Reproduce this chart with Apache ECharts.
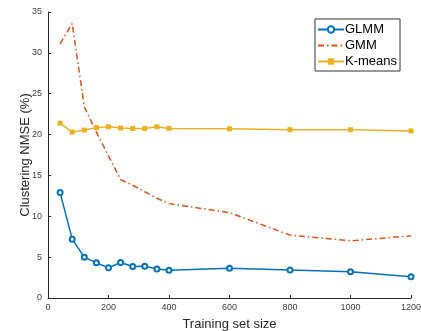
<!DOCTYPE html>
<html><head><meta charset="utf-8">
<script src="https://cdn.jsdelivr.net/npm/echarts@6/dist/echarts.min.js"></script>
<style>html,body{margin:0;padding:0;background:#fff}#c{width:421px;height:331px}</style>
</head><body><div id="c"></div>
<script>
const sizes = [40, 80, 120, 160, 200, 240, 280, 320, 360, 400, 600, 800, 1000, 1200];
const glmm = [12.9, 7.2, 5.0, 4.3, 3.7, 4.35, 3.85, 3.9, 3.55, 3.4, 3.63, 3.42, 3.2, 2.6];
const gmm = [31.1, 33.6, 23.4, 20.3, 17.4, 14.5, 13.8, 13.0, 12.2, 11.55, 10.45, 7.7, 7.0, 7.6];
const kmeans = [21.4, 20.3, 20.55, 20.85, 20.95, 20.8, 20.75, 20.75, 20.95, 20.75, 20.7, 20.6, 20.6, 20.45];
const xTicks = [0, 200, 400, 600, 800, 1000, 1200];
const yTicks = [0, 5, 10, 15, 20, 25, 30, 35];

const pair = (ys) => sizes.map((x, i) => [x, ys[i]]);
const chart = echarts.init(document.getElementById('c'), null, {renderer: 'canvas'});
const font = 'Helvetica, Arial, "Liberation Sans", sans-serif';
chart.setOption({
  animation: false,
  textStyle: {fontFamily: font},
  grid: {left: 48, right: 10, top: 12, bottom: 33, containLabel: false, outerBoundsMode: 'none'},
  legend: {
    left: 315, top: 19, orient: 'vertical',
    itemWidth: 26, itemHeight: 8, itemGap: 3,
    padding: [4, 3, 3, 2],
    borderColor: '#333', borderWidth: 1, borderRadius: 0,
    backgroundColor: '#fff',
    textStyle: {fontSize: 13, color: '#000', fontFamily: font, padding: [0, 0, 0, -4]},
    data: ['GLMM', {name: 'GMM', itemStyle: {opacity: 0}}, 'K-means']
  },
  xAxis: {
    type: 'value', min: 0, max: 1200, interval: 200,
    name: 'Training set size', nameLocation: 'middle', nameGap: 20, nameMoveOverlap: false,
    nameTextStyle: {fontSize: 13, color: '#262626'},
    axisLine: {lineStyle: {color: '#262626', width: 1}},
    axisTick: {inside: true, length: 3, lineStyle: {color: '#262626'}},
    axisLabel: {fontSize: 9, color: '#404040', margin: 5,
      formatter: v => xTicks.includes(v) ? String(v) : ''},
    splitLine: {show: false}
  },
  yAxis: {
    type: 'value', min: 0, max: 35, interval: 5,
    name: 'Clustering NMSE (%)', nameLocation: 'middle', nameGap: 16, nameMoveOverlap: false,
    nameTextStyle: {fontSize: 13, color: '#262626'},
    axisLine: {show: true, lineStyle: {color: '#262626', width: 1}},
    axisTick: {show: true, inside: true, length: 3, lineStyle: {color: '#262626'}},
    axisLabel: {fontSize: 9, color: '#404040', margin: 6,
      formatter: v => yTicks.includes(v) ? String(v) : ''},
    splitLine: {show: false}
  },
  series: [
    {name: 'GLMM', type: 'line', data: pair(glmm), color: '#0072BD',
     symbol: 'emptyCircle', symbolSize: 5, showAllSymbol: true,
     lineStyle: {width: 1.5, color: '#0072BD'},
     itemStyle: {color: '#0072BD', borderColor: '#0072BD', borderWidth: 1}},
    {name: 'GMM', type: 'line', data: pair(gmm), color: '#D95319',
     symbol: 'none', smooth: false,
     lineStyle: {width: 1.5, color: '#D95319', type: [6, 3, 1.5, 3]}},
    {name: 'K-means', type: 'line', data: pair(kmeans), color: '#EDB120',
     symbol: 'rect', symbolSize: 5, showAllSymbol: true,
     lineStyle: {width: 1.5, color: '#EDB120'},
     itemStyle: {color: '#EDB120'}}
  ]
});
</script></body></html>
